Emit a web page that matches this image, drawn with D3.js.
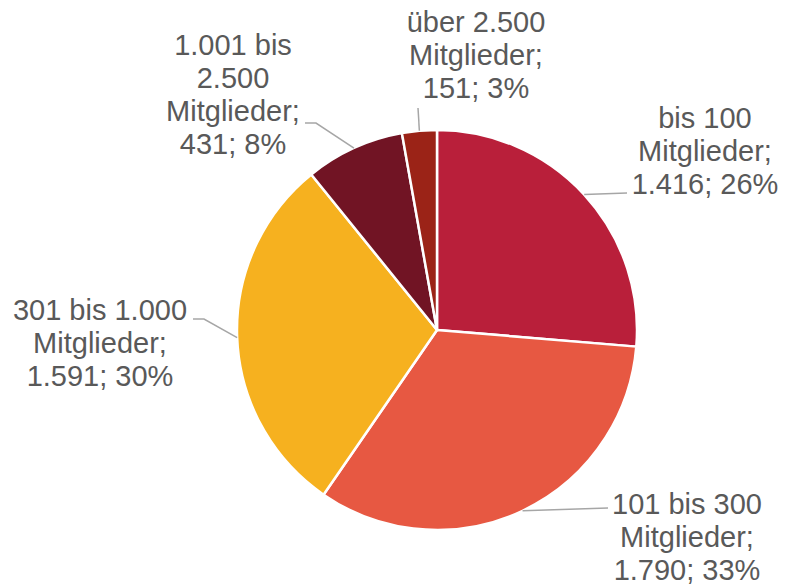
<!DOCTYPE html>
<html>
<head>
<meta charset="utf-8">
<script src="https://cdn.jsdelivr.net/npm/d3@7"></script>
<style>
body { margin: 0; background: #ffffff; }
</style>
</head>
<body>
<div id="chart"></div>
<script>
const width = 787;
const height = 587;

// data
const categories = ["bis 100", "101 bis 300", "301 bis 1.000", "1.001 bis 2.500", "über 2.500"];
const values = [1416, 1790, 1591, 431, 151];
const colors = ["#B91F3A", "#E75842", "#F6B11F", "#711424", "#9B2317"];

// label lines as they wrap in the picture
const label_lines = [
	["bis 100", "Mitglieder;"],
	["101 bis 300", "Mitglieder;"],
	["301 bis 1.000", "Mitglieder;"],
	["1.001 bis", "2.500", "Mitglieder;"],
	["über 2.500", "Mitglieder;"],
];

// layout of labels: text block center x, first baseline y, leader line bend/end points
const label_layout = [
	{x: 705, y: 128, leader: [[627, 193]]},
	{x: 687, y: 514, leader: [[608, 508]]},
	{x: 100, y: 320, leader: [[204, 319], [193, 319]]},
	{x: 233, y: 55, leader: [[316, 123], [305, 123]]},
	{x: 476, y: 32, leader: [[418, 108]]},
];

const cx = 437, cy = 330, radius = 200;
const line_height = 33;

const fmt = d3.formatLocale({decimal: ",", thousands: ".", grouping: [3], currency: ["", "€"]}).format(",");
const total = d3.sum(values);

const svg = d3.select("#chart")
	.append("svg")
		.attr("width", width)
		.attr("height", height);

const g = svg.append("g")
	.attr("transform", "translate(" + cx + "," + cy + ")");

const pie = d3.pie()
	.sort(null)
	.value(d => d)(values);

const arc = d3.arc()
	.innerRadius(0)
	.outerRadius(radius);

// slices
g.selectAll("path.slice")
	.data(pie)
	.join("path")
		.attr("class", "slice")
		.attr("d", arc)
		.attr("fill", (d, i) => colors[i])
		.attr("stroke", "#ffffff")
		.attr("stroke-width", 2.5)
		.attr("stroke-linejoin", "round");

// leader lines, starting at the arc midpoint of each slice
const line = d3.line();
svg.append("g")
	.selectAll("path")
	.data(pie)
	.join("path")
		.attr("d", (d, i) => {
			const a = (d.startAngle + d.endAngle) / 2;
			const start = [cx + radius * Math.sin(a), cy - radius * Math.cos(a)];
			return line([start].concat(label_layout[i].leader));
		})
		.attr("fill", "none")
		.attr("stroke", "#A6A6A6")
		.attr("stroke-width", 1.5);

// labels
const labels = svg.append("g")
	.selectAll("text")
	.data(pie)
	.join("text")
		.attr("x", (d, i) => label_layout[i].x)
		.attr("y", (d, i) => label_layout[i].y)
		.attr("text-anchor", "middle")
		.attr("font-family", "'Liberation Sans', Arial, sans-serif")
		.attr("font-size", 29)
		.attr("fill", "#595959");

labels.each(function(d, i) {
	const pct = Math.round(values[i] / total * 100) + "%";
	const lines = label_lines[i].concat([fmt(values[i]) + "; " + pct]);
	d3.select(this).selectAll("tspan")
		.data(lines)
		.join("tspan")
			.attr("x", label_layout[i].x)
			.attr("dy", (t, j) => j === 0 ? 0 : line_height)
			.text(t => t);
});
</script>
</body>
</html>
